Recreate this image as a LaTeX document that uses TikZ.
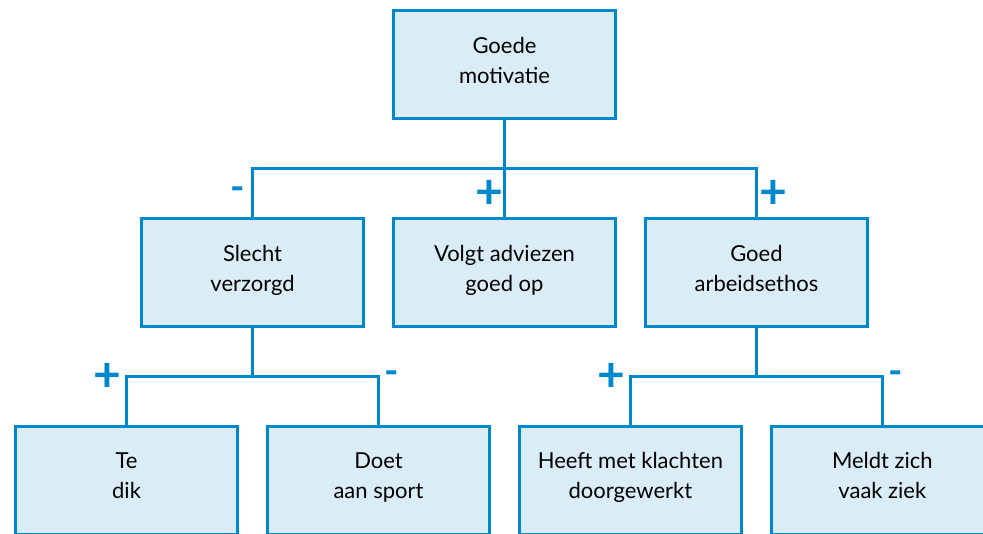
\documentclass[tikz,border=0pt]{standalone}
\usepackage{fontspec}
\setmainfont{Lato}
\usepackage{xcolor}
\definecolor{cblue}{RGB}{0,136,204}
\definecolor{cfill}{RGB}{218,236,246}
\usepackage{tikz}
\usetikzlibrary{positioning, calc}

\begin{document}
\begin{tikzpicture}[
    x=0.75pt, y=-0.75pt,
    node distance=72.75pt and 20.25pt,
    box/.style={
        rectangle,
        draw=cblue,
        fill=cfill,
        line width=2.2pt,
        minimum width=166.5pt,
        minimum height=81pt,
        align=center,
        execute at begin node=\strut,
        execute at end node=\strut,
        font=\fontsize{16.5}{22.5}\selectfont
    },
    link/.style={draw=cblue, line width=2.2pt},
    sign/.style={text=cblue, inner sep=0pt, outer sep=0pt},
    plus/.style={sign, font=\bfseries\fontsize{36}{36}\selectfont},
    minus/.style={sign, font=\bfseries\fontsize{29}{29}\selectfont}
]

\clip (0,0) rectangle (983,534);

\node[box] (goede) at (504.5,64.5) {Goede\\motivatie};
\node[box, below=of goede]  (volgt)  {Volgt adviezen\\goed op};
\node[box, left=of volgt]   (slecht) {Slecht\\verzorgd};
\node[box, right=of volgt]  (arbeid) {Goed\\arbeidsethos};

\node[box, below=of slecht, xshift=-94.5pt] (dik)      {Te\\dik};
\node[box, right=of dik]                    (sport)    {Doet\\aan sport};
\node[box, below=of arbeid, xshift=-94.5pt] (klachten) {Heeft met klachten\\doorgewerkt};
\node[box, right=of klachten]               (ziek)     {Meldt zich\\vaak ziek};

% verbindingen
\coordinate (bar1) at ($(goede.south)!0.5!(volgt.north)$);
\coordinate (bar2) at ($(slecht.south)!0.5!(slecht.south |- dik.north)$);
\coordinate (bar3) at ($(arbeid.south)!0.5!(arbeid.south |- klachten.north)$);

\draw[link] (goede.south) -- (volgt.north);
\draw[link] (slecht.north) |- (bar1 -| arbeid.north) -- (arbeid.north);
\draw[link] (slecht.south) -- (bar2);
\draw[link] (dik.north) |- (bar2 -| sport.north) -- (sport.north);
\draw[link] (arbeid.south) -- (bar3);
\draw[link] (klachten.north) |- (bar3 -| ziek.north) -- (ziek.north);

% tekens
\node[minus, xshift=-10.9pt,  yshift=17.25pt] at (slecht.north)   {-};
\node[plus,  xshift=-11.6pt,  yshift=17.25pt] at (volgt.north)    {+};
\node[plus,  xshift=12.75pt,  yshift=17.25pt] at (arbeid.north)   {+};
\node[plus,  xshift=-14.25pt, yshift=35.25pt] at (dik.north)      {+};
\node[minus, xshift=9.75pt,   yshift=35.25pt] at (sport.north)    {-};
\node[plus,  xshift=-14.25pt, yshift=35.25pt] at (klachten.north) {+};
\node[minus, xshift=9.75pt,   yshift=35.25pt] at (ziek.north)     {-};

\end{tikzpicture}
\end{document}
